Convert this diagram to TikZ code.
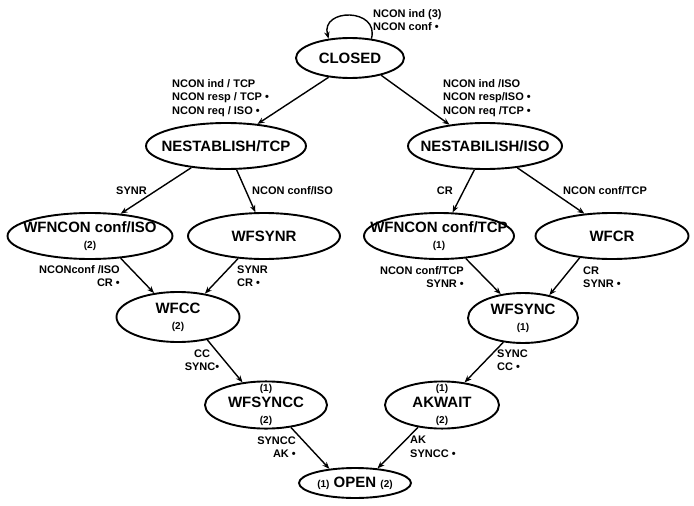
\documentclass[tikz,border=0pt]{standalone}
\usepackage{fontspec}
\setmainfont{Liberation Sans}
\usetikzlibrary{arrows.meta,shapes.geometric}
\tikzset{>=Stealth}
\newcommand{\sm}[1]{{\fontsize{10}{11}\selectfont #1}}
\newcommand{\ok}{\textbullet}

\begin{document}
\begin{tikzpicture}[x=1pt, y=-1pt,
    st/.style={draw, ellipse, line width=1.9pt, inner xsep=-16pt, inner ysep=-4pt, align=center, font=\fontsize{15}{16}\selectfont\bfseries},
    lab/.style={inner sep=0pt, font=\fontsize{11}{13.5}\selectfont\bfseries},
    tr/.style={->, line width=1.4pt, >={Stealth[length=7pt,width=5.5pt]}}
  ]
  \useasboundingbox (0,0) rectangle (694,506);
  % states
  \node[st, minimum width=108pt, minimum height=40pt] (closed) at (350,58) {CLOSED};
  \node[st, minimum width=160pt, minimum height=46pt] (ntcp) at (226,146) {NESTABLISH/TCP};
  \node[st, minimum width=154pt, minimum height=46pt] (niso) at (485,146) {NESTABILISH/ISO};
  \node[st, minimum width=165pt, minimum height=46pt] (wfiso) at (90,236) {WFNCON conf/ISO\\\sm{(2)}};
  \node[st, minimum width=152pt, minimum height=46pt] (wfsynr) at (264,236) {WFSYNR};
  \node[st, minimum width=150pt, minimum height=46pt] (wftcp) at (439,236) {WFNCON conf/TCP\\\sm{(1)}};
  \node[st, minimum width=153pt, minimum height=46pt] (wfcr) at (612,236) {WFCR};
  \node[st, minimum width=123pt, minimum height=50pt] (wfcc) at (178,317) {WFCC\\\sm{(2)}};
  \node[st, minimum width=110pt, minimum height=50pt] (wfsync) at (523,318) {WFSYNC\\\sm{(1)}};
  \node[st, minimum width=122pt, minimum height=45pt] (wfsyncc) at (266,405) {\sm{(1)}\\WFSYNCC\\\sm{(2)}};
  \node[st, minimum width=114pt, minimum height=45pt] (akwait) at (442,405) {\sm{(1)}\\AKWAIT\\\sm{(2)}};
  \node[st, minimum width=112pt, minimum height=30pt] (open) at (355,483) {\sm{(1)} OPEN \sm{(2)}};

  % transitions
  \draw[tr] (closed.42) .. controls +(75:32pt) and +(105:32pt) .. (closed.138);
  \draw[tr] (closed.222) -- (ntcp.35);
  \draw[tr] (closed.331) -- (niso.149);
  \draw[tr] (ntcp.212) -- (wfiso.36);
  \draw[tr] (ntcp.294) -- (wfsynr.110);
  \draw[tr] (niso.246) -- (wftcp.60);
  \draw[tr] (niso.326) -- (wfcr.141);
  \draw[tr] (wfiso.324) -- (wfcc.135);
  \draw[tr] (wfsynr.221) -- (wfcc.41);
  \draw[tr] (wftcp.320) -- (wfsync.133);
  \draw[tr] (wfcr.214) -- (wfsync.41);
  \draw[tr] (wfcc.322) -- (wfsyncc.136);
  \draw[tr] (wfsync.231) -- (akwait.45);
  \draw[tr] (wfsyncc.318) -- (open.151);
  \draw[tr] (akwait.223) -- (open.33);

  % labels
  \node[lab, anchor=west, align=left] (lloop) at (373,20) {NCON ind (3)\\NCON conf \ok};
  \node[lab, anchor=west, align=left] (ltcp) at (172,98) {NCON ind / TCP\\NCON resp / TCP \ok\\NCON req / ISO \ok};
  \node[lab, anchor=west, align=left] (liso) at (443,98) {NCON ind /ISO\\NCON resp/ISO \ok\\NCON req /TCP \ok};
  \node[lab, anchor=east] (lsynr) at (147,191) {SYNR};
  \node[lab, anchor=west] (lconfiso) at (252,191) {NCON conf/ISO};
  \node[lab, anchor=east] (lcr) at (453,191) {CR};
  \node[lab, anchor=west] (lconftcp) at (563,191) {NCON conf/TCP};
  \node[lab, anchor=east, align=right] (lwfcc1) at (120,276) {NCONconf /ISO\\CR \ok};
  \node[lab, anchor=west, align=left] (lwfcc2) at (237,276) {SYNR\\CR \ok};
  \node[lab, anchor=east, align=right] (lwfsync1) at (464,277) {NCON conf/TCP\\SYNR \ok};
  \node[lab, anchor=west, align=left] (lwfsync2) at (583,277) {CR\\SYNR \ok};
  \node[lab, align=center] (lcc) at (202,360) {CC\\SYNC\ok};
  \node[lab, anchor=west, align=left] (lsync) at (497,360) {SYNC\\CC \ok};
  \node[lab, anchor=east, align=right] (lsyncc) at (296,447) {SYNCC\\AK \ok};
  \node[lab, anchor=west, align=left] (lak) at (410,447) {AK\\SYNCC \ok};
\end{tikzpicture}
\end{document}
